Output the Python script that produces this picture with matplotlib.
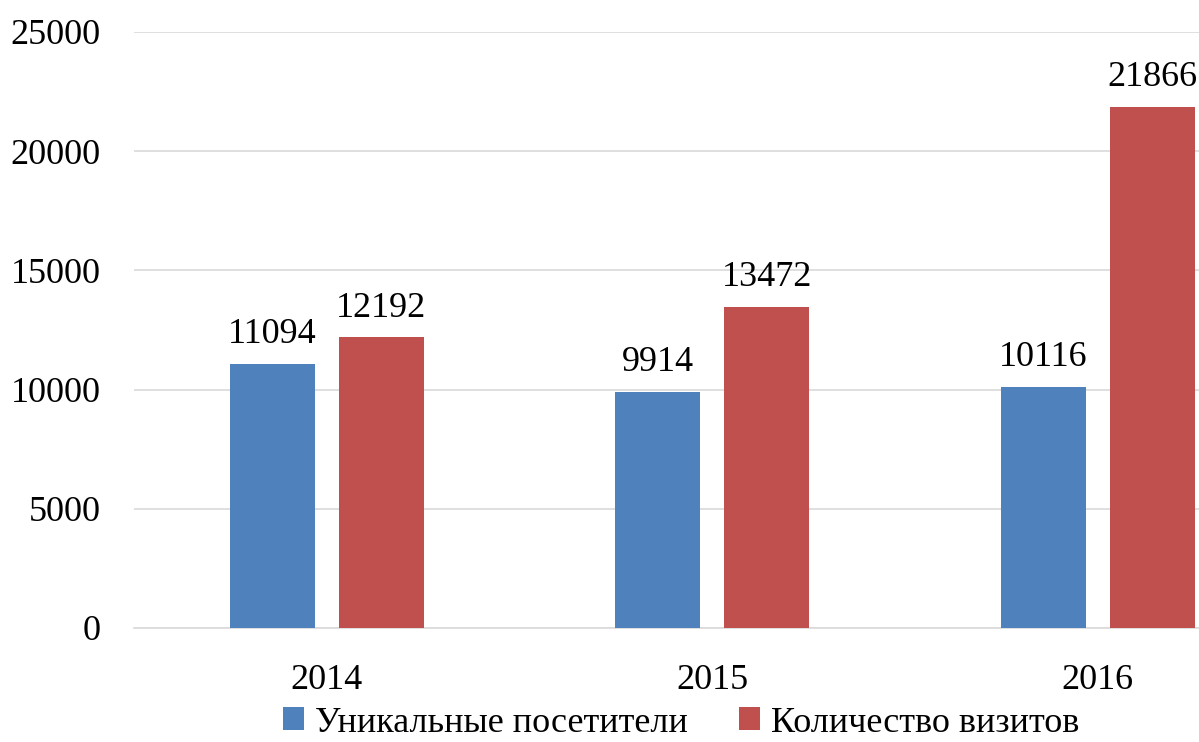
import matplotlib.pyplot as plt
import numpy as np

years = ["2014", "2015", "2016"]
unique_visitors = [11094, 9914, 10116]
visits = [12192, 13472, 21866]
series_names = ["Уникальные посетители", "Количество визитов"]

plt.rcParams['font.family'] = ['Liberation Serif', 'DejaVu Serif']

fig = plt.figure(figsize=(11.99, 7.42), dpi=100)
ax = fig.add_axes([134 / 1199, 1 - 628 / 742, 1156.5 / 1199, 596 / 742])

x = np.arange(len(years))
w = 0.22
off = 0.141
b1 = ax.bar(x - off, unique_visitors, w, color='#4f81bd', label=series_names[0], zorder=3)
b2 = ax.bar(x + off, visits, w, color='#c0504d', label=series_names[1], zorder=3)

for bars, vals in [(b1, unique_visitors), (b2, visits)]:
    for rect, v in zip(bars, vals):
        ax.annotate(str(v), (rect.get_x() + rect.get_width() / 2, v),
                    xytext=(0, 9), textcoords='offset points',
                    ha='center', va='bottom', fontsize=26)

ax.set_xlim(-0.5, 2.5)
ax.set_ylim(0, 25000)
ax.set_yticks(range(0, 25001, 5000))
ax.set_xticks(x)
ax.set_xticklabels(years)
ax.tick_params(length=0, labelsize=26)
ax.tick_params(axis='y', pad=24)
ax.tick_params(axis='x', pad=26)
ax.grid(axis='y', color='#d9d9d9', linewidth=1.2, zorder=0)
for s in ['top', 'right', 'left']:
    ax.spines[s].set_visible(False)
ax.spines['bottom'].set_color('#d9d9d9')
ax.spines['bottom'].set_linewidth(1.2)

fig.legend(loc='center', bbox_to_anchor=(681 / 1199, 1 - 723 / 742), ncol=2,
           frameon=False, fontsize=26, handlelength=0.6, handleheight=0.6,
           handletextpad=0.3, columnspacing=1.4, borderpad=0.1)

fig.savefig('out.png', dpi=100)
